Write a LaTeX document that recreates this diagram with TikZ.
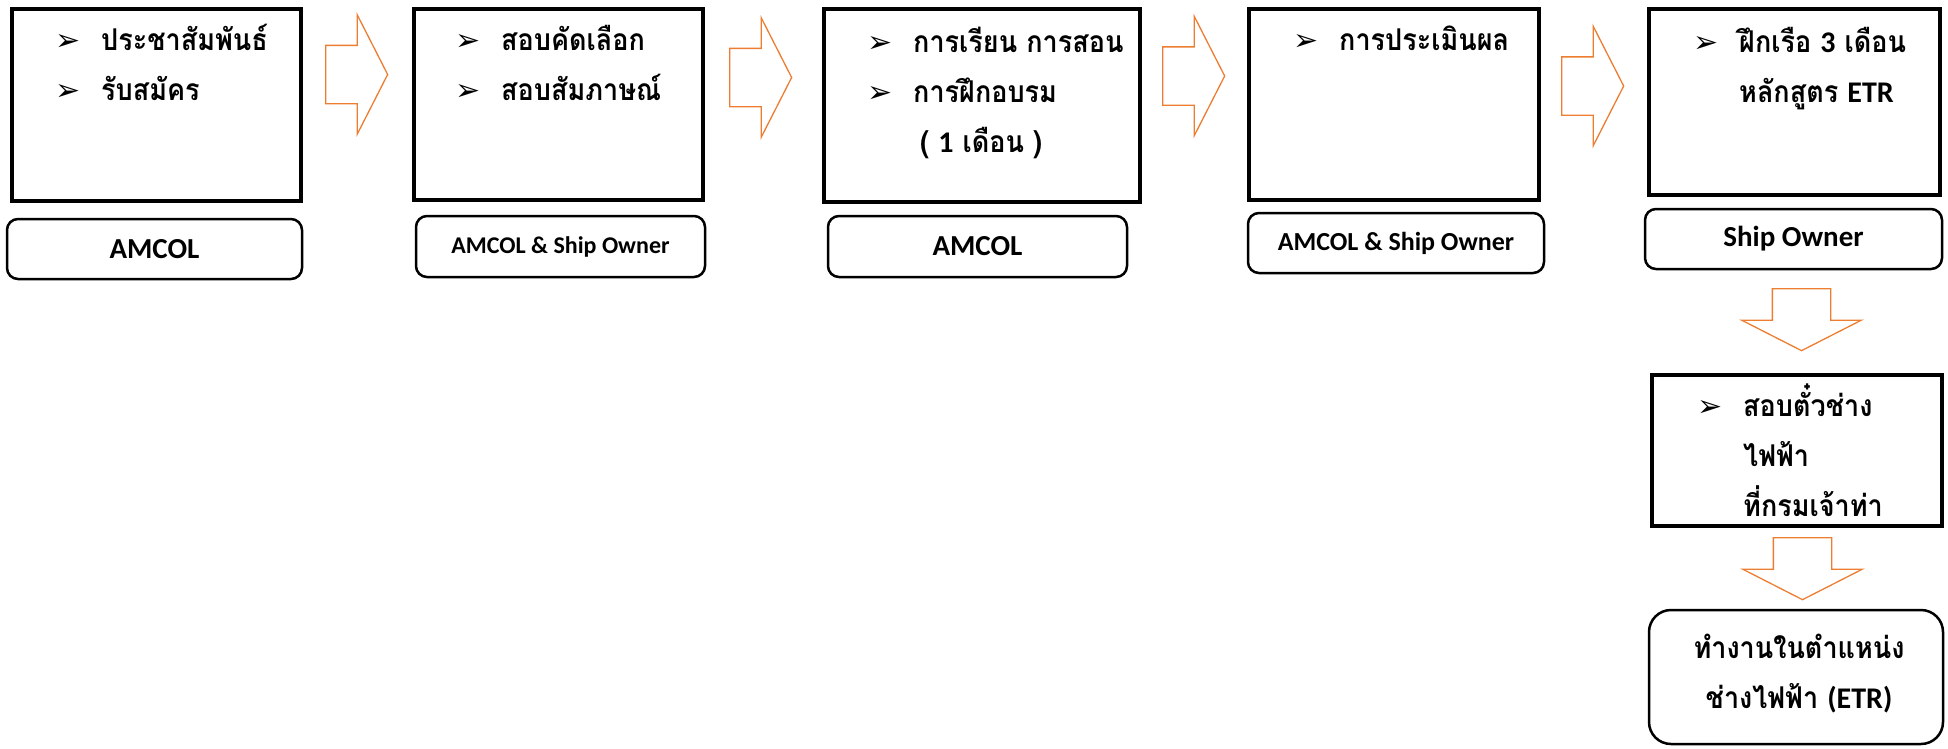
\documentclass[tikz,border=0pt]{standalone}
\usepackage{fontspec}
\usetikzlibrary{shapes.arrows,positioning}
\newfontfamily\thaifont[Script=Thai,FakeStretch=0.9]{Loma}
\newfontfamily\latfont{Carlito}
\newfontfamily\symfont{DejaVu Sans}
\definecolor{flowarrow}{HTML}{ED7D31}
\newcommand\lat[1]{{\latfont\bfseries #1}}
\newcommand\bul{\makebox[46pt][l]{\symfont\fontsize{30}{30}\selectfont ➢}}
\newcommand\ind{\hspace*{46pt}}
\tikzset{x=1pt,y=-1pt,
    stepbox/.style={draw,line width=4pt,inner sep=0pt},
    whobox/.style={draw,line width=2.5pt,rounded corners=11pt,inner sep=0pt,
        font=\latfont\bfseries},
    steptext/.style={align=left,inner sep=0pt,anchor=base west,
        font=\thaifont\bfseries\fontsize{30}{50}\selectfont},
    rarrow/.style={single arrow,draw=flowarrow,line width=1.3pt,
        inner xsep=0pt,inner ysep=28.5pt,minimum height=62pt,minimum width=118pt,
        single arrow head extend=30.5pt,single arrow tip angle=126,anchor=tail},
    darrow/.style={rarrow,rotate=-90},
    }
\begin{document}
\begin{tikzpicture}
\useasboundingbox (0,0) rectangle (1948,748);
% steps
\node[stepbox,minimum width=289pt,minimum height=192pt] (b1) at (156.5,105) {};
\node[stepbox,minimum width=289pt,minimum height=191pt] (b2) at (558.5,104.5) {};
\node[stepbox,minimum width=316pt,minimum height=193pt] (b3) at (982,105.5) {};
\node[stepbox,minimum width=290pt,minimum height=191pt] (b4) at (1394,104.5) {};
\node[stepbox,minimum width=291pt,minimum height=186pt] (b5) at (1794.5,102) {};
\node[stepbox,minimum width=290pt,minimum height=151pt] (b6) at (1797,450.5) {};
% text sits on the baseline of its last line
\node[steptext] (t1) at (55,100) {\bul ประชาสัมพันธ์\\ \bul รับสมัคร};
\node[steptext] (t2) at (455,100) {\bul สอบคัดเลือก\\ \bul สอบสัมภาษณ์};
\node[steptext] (t3) at (867,152) {\bul การเรียน การสอน\\ \bul การฝึกอบรม\\
    \ind\hspace*{7pt}( \lat{1} เดือน )};
\node[steptext] (t4) at (1293,50) {\bul การประเมินผล};
\node[steptext] (t5) at (1693,102) {\bul ฝึกเรือ \lat{3} เดือน\\ \ind หลักสูตร \lat{ETR}};
\node[steptext] (t6) at (1697,516) {\bul สอบตั๋วช่าง\\ \ind ไฟฟ้า\\ \ind ที่กรมเจ้าท่า};
% who is in charge
\node[whobox,minimum width=295pt,minimum height=60pt,font=\latfont\bfseries\fontsize{29}{34}\selectfont]
    (w1) at (154.5,249) {AMCOL};
\node[whobox,minimum width=289pt,minimum height=61pt,font=\latfont\bfseries\fontsize{24}{28}\selectfont]
    (w2) at (560.5,246.5) {AMCOL \& Ship Owner};
\node[whobox,minimum width=299pt,minimum height=61pt,font=\latfont\bfseries\fontsize{29}{34}\selectfont]
    (w3) at (977.5,246.5) {AMCOL};
\node[whobox,minimum width=296pt,minimum height=60pt,font=\latfont\bfseries\fontsize{26}{30}\selectfont]
    (w4) at (1396,243) {AMCOL \& Ship Owner};
\node[whobox,minimum width=297pt,minimum height=60pt,font=\latfont\bfseries\fontsize{29}{34}\selectfont]
    (w5) at (1793.5,239) {Ship Owner};
\node[whobox,rounded corners=22pt,minimum width=294pt,minimum height=134pt] (job) at (1796,677) {};
\node[steptext,align=center,anchor=base] (jobtext) at (1799,708)
    {ทำงานในตำแหน่ง\\ ช่างไฟฟ้า \lat{(ETR)}};
% block arrows
\node[rarrow] (a1) at (325,74.5) {};
\node[rarrow] (a2) at (729,77.5) {};
\node[rarrow] (a3) at (1162,76) {};
\node[rarrow] (a4) at (1561,86) {};
\node[darrow] (d1) at (1801.5,288) {};
\node[darrow] (d2) at (1802.5,537) {};
\end{tikzpicture}
\end{document}
